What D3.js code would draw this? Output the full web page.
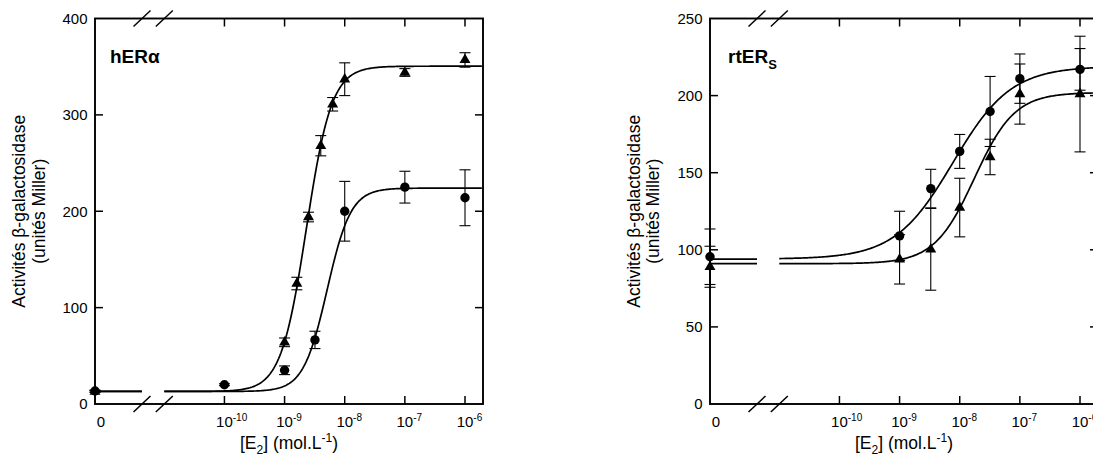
<!DOCTYPE html>
<html>
<head>
<meta charset="utf-8">
<script src="https://cdn.jsdelivr.net/npm/d3@7"></script>
<style>
  body { margin: 0; background: #fff; }
  text { font-family: "Liberation Sans", Arial, sans-serif; fill: #000; }
</style>
</head>
<body>
<div id="chart-area"></div>
<script>

// concentrations in mol/L, 0 = control without E2
var hERa_circleConc = [0, 1e-10, 1e-9, 3.2e-9, 1e-8, 1e-7, 1e-6];
var hERa_circleVal  = [13.5, 20, 35, 66.5, 200, 225, 214];
var hERa_circleErr  = [1, 1, 4.5, 9, 31, 16.5, 29];
var hERa_triConc = [0, 1e-9, 1.6e-9, 2.5e-9, 4e-9, 6.3e-9, 1e-8, 1e-7, 1e-6];
var hERa_triVal  = [13, 64, 125, 194, 268, 311, 337, 344, 357];
var hERa_triErr  = [1, 4.5, 6.5, 5, 10.5, 7, 17, 4, 7.5];

var rtERs_circleConc = [0, 1e-9, 3.3e-9, 1e-8, 3.2e-8, 1e-7, 1e-6];
var rtERs_circleVal  = [95.5, 109, 139.7, 163.8, 189.7, 211, 217];
var rtERs_circleErr  = [18, 16, 12.5, 11, 22.7, 16, 13.5];
var rtERs_triConc = [0, 1e-9, 3.3e-9, 1e-8, 3.2e-8, 1e-7, 1e-6];
var rtERs_triVal  = [89, 93.8, 100.3, 127.4, 160.2, 201, 201];
var rtERs_triErr  = [13.3, 16, 26.5, 19, 11.5, 19.5, 37.5];

// sigmoid fits: bottom, top, EC50, Hill slope
var hERa_circleFit  = [13, 224, 5.1e-9, 2.2];
var hERa_triFit     = [13, 350.5, 2.3e-9, 2.06];
var rtERs_circleFit = [94, 219, 7.7e-9, 0.9];
var rtERs_triFit    = [91, 202, 1.76e-8, 1.3];

var xTickExp = [-10, -9, -8, -7, -6];
var hERa_yTicks = [0, 100, 200, 300, 400];
var rtERs_yTicks = [0, 50, 100, 150, 200, 250];

var width = 1093, height = 461;
var panelW = 388;
var frameTop = 18.5, frameBottom = 404;
var breaks = [47, 69.3];

var svg = d3.select("#chart-area")
    .append("svg")
    .attr("width", width)
    .attr("height", height);

function zip(conc, val, err) {
    return conc.map(function(c, i) { return {c: c, v: val[i], e: err[i]}; });
}

function drawPanel(p)
{
    var g = svg.append("g").attr("transform", "translate(" + p.left + ",0)");

    var x = d3.scaleLog().domain([1e-11, 1e-6]).range([69.3, 370]);
    var y = d3.scaleLinear().domain([0, p.yMax]).range([frameBottom, frameTop]);
    var xpos = function(c) { return c === 0 ? 0 : x(c); };

    // frame
    g.append("rect")
        .attr("x", 0).attr("y", frameTop)
        .attr("width", panelW).attr("height", frameBottom - frameTop)
        .attr("fill", "none").attr("stroke", "black").attr("stroke-width", 1.9);

    // x ticks top and bottom, inward
    xTickExp.forEach(function(e) {
        var xx = x(Math.pow(10, e));
        g.append("line").attr("x1", xx).attr("x2", xx)
            .attr("y1", frameBottom).attr("y2", frameBottom - 8)
            .attr("stroke", "black").attr("stroke-width", 1.5);
        g.append("line").attr("x1", xx).attr("x2", xx)
            .attr("y1", frameTop).attr("y2", frameTop + 8)
            .attr("stroke", "black").attr("stroke-width", 1.5);
        var t = g.append("text").attr("x", xx).attr("y", 427)
            .attr("text-anchor", "middle").style("font-size", "15px").text("10");
        var w = t.node().getComputedTextLength();
        g.append("text").attr("x", xx + w / 2).attr("y", 421)
            .style("font-size", "10px").text(e);
    });
    g.append("text").attr("x", 6).attr("y", 427)
        .attr("text-anchor", "middle").style("font-size", "15px").text("0");

    // y ticks left and right, inward
    p.yTicks.forEach(function(v) {
        var yy = y(v);
        if (v > 0 && v < p.yMax) {
            g.append("line").attr("x1", 0).attr("x2", 8)
                .attr("y1", yy).attr("y2", yy)
                .attr("stroke", "black").attr("stroke-width", 1.5);
            g.append("line").attr("x1", panelW).attr("x2", panelW - 8)
                .attr("y1", yy).attr("y2", yy)
                .attr("stroke", "black").attr("stroke-width", 1.5);
        }
        g.append("text").attr("x", -7.5).attr("y", yy).attr("dy", "0.35em")
            .attr("text-anchor", "end").style("font-size", "15px").text(v);
    });

    // axis breaks
    breaks.forEach(function(bx) {
        [frameTop, frameBottom].forEach(function(by) {
            g.append("line")
                .attr("x1", bx - 8.5).attr("y1", by + 8)
                .attr("x2", bx + 8.5).attr("y2", by - 8)
                .attr("stroke", "black").attr("stroke-width", 1.5);
        });
    });

    // fitted curves
    var line = d3.line().x(function(d) { return d[0]; }).y(function(d) { return d[1]; });
    var logEnd = Math.log10(x.invert(panelW));
    p.fits.forEach(function(f) {
        var pts = [];
        for (var lx = -11; lx <= logEnd + 1e-9; lx += 0.02) {
            var c = Math.pow(10, lx);
            var v = f[0] + (f[1] - f[0]) / (1 + Math.pow(f[2] / c, f[3]));
            pts.push([x(c), y(v)]);
        }
        g.append("path").attr("d", line(pts))
            .attr("fill", "none").attr("stroke", "black").attr("stroke-width", 1.7);
        g.append("line")
            .attr("x1", 0).attr("x2", breaks[0])
            .attr("y1", y(f[0])).attr("y2", y(f[0]))
            .attr("stroke", "black").attr("stroke-width", 1.7);
    });

    // error bars
    var allPts = p.circles.concat(p.tris);
    allPts.forEach(function(d) {
        var xx = xpos(d.c);
        g.append("line").attr("x1", xx).attr("x2", xx)
            .attr("y1", y(d.v - d.e)).attr("y2", y(d.v + d.e))
            .attr("stroke", "black").attr("stroke-width", 1.1);
        [d.v - d.e, d.v + d.e].forEach(function(v) {
            g.append("line").attr("x1", xx - 5.5).attr("x2", xx + 5.5)
                .attr("y1", y(v)).attr("y2", y(v))
                .attr("stroke", "black").attr("stroke-width", 1.1);
        });
    });

    // markers
    g.selectAll(".tri")
        .data(p.tris)
        .enter()
        .append("path")
        .attr("d", d3.symbol().type(d3.symbolTriangle).size(52))
        .attr("transform", function(d) { return "translate(" + xpos(d.c) + "," + y(d.v) + ")"; })
        .attr("fill", "black");

    g.selectAll(".circ")
        .data(p.circles)
        .enter()
        .append("circle")
        .attr("cx", function(d) { return xpos(d.c); })
        .attr("cy", function(d) { return y(d.v); })
        .attr("r", 4.7)
        .attr("fill", "black");

    // title
    var title = g.append("text").attr("x", p.titleX).attr("y", 63)
        .style("font-size", "19px").style("font-weight", "bold").text(p.title);
    if (p.titleSub) {
        title.append("tspan").attr("dy", 6).style("font-size", "13px").text(p.titleSub);
    }

    // axis labels
    var xl = g.append("text").attr("x", panelW / 2).attr("y", 449)
        .attr("text-anchor", "middle").style("font-size", "17.5px");
    xl.append("tspan").text("[E");
    xl.append("tspan").attr("dy", 5).style("font-size", "12px").text("2");
    xl.append("tspan").attr("dy", -5).text("] (mol.L");
    xl.append("tspan").attr("dy", -7).style("font-size", "12px").text("-1");
    xl.append("tspan").attr("dy", 7).text(")");

    var midY = (frameTop + frameBottom) / 2;
    g.append("text")
        .attr("transform", "translate(" + p.yLab1 + "," + midY + ") rotate(-90)")
        .attr("text-anchor", "middle").style("font-size", "17.5px")
        .text("Activités β-galactosidase");
    g.append("text")
        .attr("transform", "translate(" + p.yLab2 + "," + midY + ") rotate(-90)")
        .attr("text-anchor", "middle").style("font-size", "17.5px")
        .text("(unités Miller)");
}

drawPanel({
    left: 95, yMax: 400, yTicks: hERa_yTicks,
    circles: zip(hERa_circleConc, hERa_circleVal, hERa_circleErr),
    tris: zip(hERa_triConc, hERa_triVal, hERa_triErr),
    fits: [hERa_circleFit, hERa_triFit],
    title: "hERα", titleX: 15,
    yLab1: -70.5, yLab2: -50
});

drawPanel({
    left: 710, yMax: 250, yTicks: rtERs_yTicks,
    circles: zip(rtERs_circleConc, rtERs_circleVal, rtERs_circleErr),
    tris: zip(rtERs_triConc, rtERs_triVal, rtERs_triErr),
    fits: [rtERs_circleFit, rtERs_triFit],
    title: "rtER", titleSub: "S", titleX: 18,
    yLab1: -70, yLab2: -51
});

</script>
</body>
</html>
